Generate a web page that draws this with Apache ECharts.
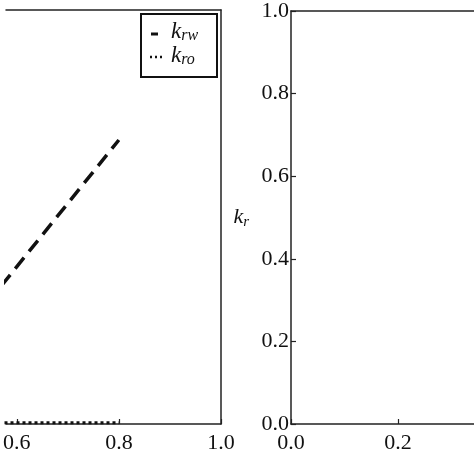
<!DOCTYPE html>
<html><head><meta charset="utf-8">
<script src="https://cdn.jsdelivr.net/npm/echarts@6/dist/echarts.min.js"></script>
<style>html,body{margin:0;background:#fff}#c{width:474px;height:474px}</style>
</head><body><div id="c"></div>
<script>
const krwX = [0.57, 0.8];
const krwY = [0.334, 0.686];
const kroX = [0.2, 0.8];
const kroY = [0.003, 0.003];
const leftXTicks = [0.6, 0.8, 1.0];
const rightXTicks = [0.0, 0.2];
const yTicks = [0, 0.2, 0.4, 0.6, 0.8, 1.0];

const font = 'Liberation Serif';
const ink = '#222';
const chart = echarts.init(document.getElementById('c'));
const line = { lineStyle: { color: ink, width: 1.5 } };
const label = { color: '#111', fontFamily: font, fontSize: 22, formatter: v => v.toFixed(1) };
const plain = { axisLine: line, axisTick: { show: false }, axisLabel: { show: false }, splitLine: { show: false } };

chart.setOption({
  animation: false,
  grid: [
    { left: 0, right: 253, top: 10, bottom: 50 },
    { left: 291, right: 0, top: 10, bottom: 50 }
  ],
  xAxis: [
    { gridIndex: 0, min: 0.579, max: 1.0, axisLine: line,
      axisTick: { inside: true, length: 5, customValues: leftXTicks, lineStyle: { color: ink, width: 1.2 } },
      axisLabel: { ...label, margin: 8, customValues: leftXTicks }, splitLine: { show: false } },
    { gridIndex: 0, position: 'top', min: 0.579, max: 1.0, ...plain },
    { gridIndex: 1, min: 0, max: 0.342, axisLine: line,
      axisTick: { inside: true, length: 5, customValues: rightXTicks, lineStyle: { color: ink, width: 1.2 } },
      axisLabel: { ...label, margin: 8, customValues: rightXTicks }, splitLine: { show: false } },
    { gridIndex: 1, position: 'top', min: 0, max: 0.342, ...plain }
  ],
  yAxis: [
    { gridIndex: 0, position: 'right', min: 0, max: 1, ...plain },
    { gridIndex: 1, min: 0, max: 1, axisLine: line,
      axisTick: { inside: true, length: 5, customValues: yTicks, lineStyle: { color: ink, width: 1.2 } },
      axisLabel: { ...label, margin: 2, customValues: yTicks }, splitLine: { show: false },
      name: '{k|k}{s|r}', nameLocation: 'middle', nameGap: 42, nameRotate: 0,
      nameTextStyle: { rich: { k: { fontFamily: font, fontStyle: 'italic', fontSize: 22, color: '#111' },
        s: { fontFamily: font, fontStyle: 'italic', fontSize: 15, color: '#111', padding: [10, 0, 0, 0] } } } }
  ],
  series: [
    { type: 'line', xAxisIndex: 0, yAxisIndex: 0, data: krwX.map((x, i) => [x, krwY[i]]), symbol: 'none', clip: true,
      lineStyle: { color: '#111', width: 3.5, type: [14, 8] } },
    { type: 'line', xAxisIndex: 0, yAxisIndex: 0, data: kroX.map((x, i) => [x, kroY[i]]), symbol: 'none', clip: true,
      lineStyle: { color: '#111', width: 3, type: [3, 3] } }
  ],
  graphic: [
    { type: 'rect', shape: { x: 141, y: 14, width: 76, height: 63 },
      style: { fill: '#fff', stroke: '#111', lineWidth: 2 } },
    { type: 'line', shape: { x1: 151, y1: 34, x2: 158, y2: 34 }, style: { stroke: '#111', lineWidth: 3 } },
    { type: 'line', shape: { x1: 150, y1: 57, x2: 163, y2: 57 }, style: { stroke: '#111', lineWidth: 2.5, lineDash: [2, 3] } },
    { type: 'text', x: 171, y: 20, style: { text: '{k|k}{s|rw}', rich: {
      k: { fontFamily: font, fontStyle: 'italic', fontSize: 23, fill: '#111' },
      s: { fontFamily: font, fontStyle: 'italic', fontSize: 16, fill: '#111', padding: [8, 0, 0, 0] } } } },
    { type: 'text', x: 171, y: 44, style: { text: '{k|k}{s|ro}', rich: {
      k: { fontFamily: font, fontStyle: 'italic', fontSize: 23, fill: '#111' },
      s: { fontFamily: font, fontStyle: 'italic', fontSize: 16, fill: '#111', padding: [8, 0, 0, 0] } } } }
  ]
});
</script></body></html>
